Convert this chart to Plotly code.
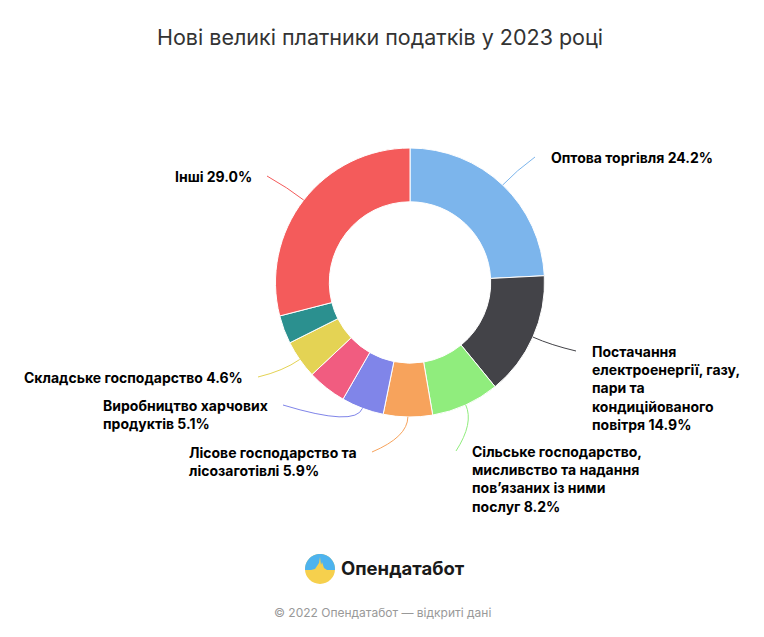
import math

import plotly.graph_objects as go

W, H = 764, 637
OFF = 8  # the page body adds an 8px margin around the figure
FONT = "Inter, Roboto, 'Noto Sans', sans-serif"

# data, clockwise from 12 o'clock
categories = ["Оптова торгівля",
              "Постачання електроенергії, газу, пари та кондиційованого повітря",
              "Сільське господарство, мисливство та надання пов'язаних із ними послуг",
              "Лісове господарство та лісозаготівлі",
              "Виробництво харчових продуктів",
              "Галузь без підпису 1",
              "Складське господарство",
              "Галузь без підпису 2",
              "Інші"]
shares = [24.2, 14.9, 8.2, 5.9, 5.1, 4.7, 4.6, 3.4, 29.0]
label_text = ["Оптова торгівля",
              "Постачання<br>електроенергії, газу,<br>пари та<br>кондиційованого<br>повітря",
              "Сільське господарство,<br>мисливство та надання<br>пов’язаних із ними<br>послуг",
              "Лісове господарство та<br>лісозаготівлі",
              "Виробництво харчових<br>продуктів",
              None,
              "Складське господарство",
              None,
              "Інші"]
colors = ["#7cb5ec", "#434348", "#90ed7d", "#f7a35c", "#8085e9",
          "#f15c80", "#e4d354", "#2b908f", "#f45b5b"]

# layout in page pixels: pie centre / radius, connector end points for each label
CX, CY, R = 410, 282.5, 134.5
label_ends = [(535, 157, "r"), (576, 351, "r"), (456, 451, "r"), (372, 452, "l"),
              (283, 405, "l"), None, (258, 377, "l"), None, (267, 176, "l")]


def px(x, y):
    return (x - OFF) / W, 1 - (y - OFF) / H


d0, d1 = px(CX - R, CY + R), px(CX + R, CY - R)
fig = go.Figure(go.Pie(
    labels=categories, values=shares, sort=False, direction="clockwise", rotation=0,
    hole=0.6, textinfo="none", showlegend=False,
    marker=dict(colors=colors, line=dict(color="white", width=1)),
    domain=dict(x=[d0[0], d1[0]], y=[d0[1], d1[1]]),
))

shapes = []
annotations = []
total = sum(shares)
cum = 0.0
for value, text, end, color in zip(shares, label_text, label_ends, colors):
    mid = (cum + value / 2) / total * 2 * math.pi
    cum += value
    if text is None:
        continue
    ux, uy = math.sin(mid), -math.cos(mid)
    sx, sy = CX + R * ux, CY + R * uy
    qx, qy = sx + 20 * ux, sy + 20 * uy
    ex, ey, side = end
    p0, q, p1 = px(sx, sy), px(qx, qy), px(ex, ey)
    shapes.append(dict(type="path", xref="paper", yref="paper",
                       path=f"M {p0[0]},{p0[1]} Q {q[0]},{q[1]} {p1[0]},{p1[1]}",
                       line=dict(color=color, width=1)))
    tx = ex + 14 if side == "r" else ex - 13
    ax, ay = px(tx, ey - 10)
    annotations.append(dict(x=ax, y=ay, xref="paper", yref="paper", showarrow=False,
                            xanchor="left" if side == "r" else "right", yanchor="top",
                            align="left", text=f"<b>{text} {value:.1f}%</b>",
                            font=dict(family=FONT, size=14, color="#000000")))

# title, logo text and footer
tx, ty = px(380, 37)
annotations.append(dict(x=tx, y=ty, xref="paper", yref="paper", showarrow=False,
                        xanchor="center", yanchor="middle",
                        text="Нові великі платники податків у 2023 році",
                        font=dict(family=FONT, size=21.5, color="#333333")))
lx, ly = px(339, 568)
annotations.append(dict(x=lx, y=ly, xref="paper", yref="paper", showarrow=False,
                        xanchor="left", yanchor="middle",
                        text="<b>Опендатабот</b>", font=dict(family=FONT, size=18.5, color="#1a1a1a")))
fx, fy = px(382, 612)
annotations.append(dict(x=fx, y=fy, xref="paper", yref="paper", showarrow=False,
                        xanchor="center", yanchor="middle",
                        text="© 2022 Опендатабот — відкриті дані",
                        font=dict(family=FONT, size=12, color="#999999")))

# logo: yellow circle with a blue top above a small waveform
LX, LY, LR = 320, 569, 15
c0, c1 = px(LX - LR, LY - LR), px(LX + LR, LY + LR)
shapes.append(dict(type="circle", xref="paper", yref="paper", x0=c0[0], y0=c1[1], x1=c1[0], y1=c0[1],
                   fillcolor="#f6d04d", line=dict(width=0)))
wave = [(-15, 1), (-9, 1), (-5, 0), (-3, -3), (-1, -6), (0, -12), (1, -4), (2, -7), (4, -1),
        (7, 1), (15, 1)]
pts = [(LX + dx, LY + dy) for dx, dy in wave]
for k in range(1, 30):
    a = k / 30 * math.pi
    pts.append((LX + LR * math.cos(a), LY - LR * math.sin(a)))
path = "M " + " L ".join(f"{px(x, y)[0]},{px(x, y)[1]}" for x, y in pts) + " Z"
shapes.append(dict(type="path", xref="paper", yref="paper", path=path,
                   fillcolor="#4db3ee", line=dict(width=0)))

fig.update_layout(width=W, height=H, margin=dict(l=0, r=0, t=0, b=0),
                  paper_bgcolor="white", plot_bgcolor="white",
                  shapes=shapes, annotations=annotations)

fig.write_html("out.html")
